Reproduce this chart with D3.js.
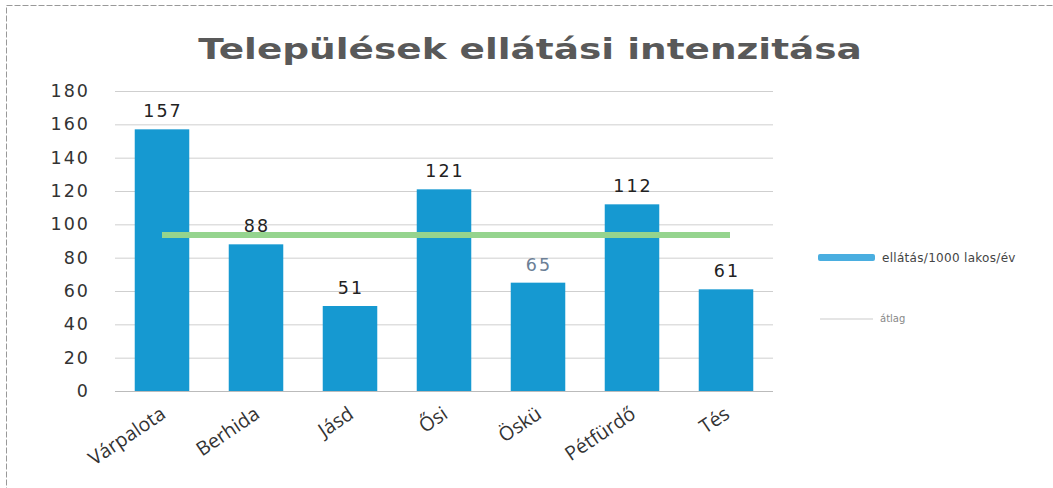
<!DOCTYPE html>
<html>
<head>
<meta charset="utf-8">
<script src="https://cdn.jsdelivr.net/npm/d3@7"></script>
<style>
  body { margin: 0; background: #fff; }
  text { font-family: "DejaVu Sans", sans-serif; }
</style>
</head>
<body>
<div id="chart"></div>
<script>
        var width = 1053;
        var height = 488;

        // data
        var categories = ["Várpalota", "Berhida", "Jásd", "Ősi", "Öskü", "Pétfürdő", "Tés"];
        var values = [157, 88, 51, 121, 65, 112, 61];
        var yTicks = [0, 20, 40, 60, 80, 100, 120, 140, 160, 180];
        var seriesNames = ["ellátás/1000 lakos/év", "átlag"];

        var avg = d3.mean(values);

        var svg = d3.select("#chart")
                    .append("svg")
                    .attr("width", width)
                    .attr("height", height);

        // frame of the pasted chart
        svg.append("rect")
            .attr("x", 6.5).attr("y", 5.5)
            .attr("width", 1060).attr("height", 500)
            .attr("fill", "none")
            .attr("stroke", "#999")
            .attr("stroke-dasharray", "6,2");

        var x = d3.scaleBand()
            .domain(categories)
            .range([115, 773])
            .paddingInner(0.42)
            .paddingOuter(0.21);

        var y = d3.scaleLinear()
            .domain([0, 180])
            .range([391, 91]);

        // title (the scan is a bit stretched sideways, so scale it to fit)
        var title = svg.append("text")
            .attr("x", 0)
            .attr("y", 0)
            .attr("text-anchor", "middle")
            .style("font-family", "'DejaVu Sans', sans-serif")
            .style("font-weight", "bold")
            .style("font-size", "28px")
            .attr("fill", "#595959")
            .text("Települések ellátási intenzitása");
        var tl = title.node().getComputedTextLength();
        title.attr("transform", "translate(530,59) scale(" + (664 / tl) + ",1)");

        // gridlines
        svg.append("g").selectAll("line")
            .data(yTicks.slice(1))
            .enter()
            .append("line")
            .attr("x1", 115).attr("x2", 773)
            .attr("y1", function(d){ return y(d) + 0.5; })
            .attr("y2", function(d){ return y(d) + 0.5; })
            .attr("stroke", "#cfcfcf")
            .attr("stroke-width", 1);

        // baseline
        svg.append("line")
            .attr("x1", 115).attr("x2", 773)
            .attr("y1", y(0) + 0.5).attr("y2", y(0) + 0.5)
            .attr("stroke", "#bbb");

        // y axis labels
        var yAxis = d3.axisLeft(y).tickValues(yTicks).tickSize(0).tickPadding(0);
        var ya = svg.append("g")
            .attr("transform", "translate(90,0)")
            .call(yAxis);
        ya.select(".domain").remove();
        ya.selectAll("text")
            .style("font-family", "'DejaVu Sans', sans-serif")
            .style("font-size", "17.5px")
            .style("letter-spacing", "2px")
            .attr("fill", "#333");

        // bars
        svg.append("g").selectAll("rect")
            .data(values)
            .enter()
            .append("rect")
            .attr("x", function(d, i){ return x(categories[i]); })
            .attr("y", function(d){ return y(d); })
            .attr("width", x.bandwidth())
            .attr("height", function(d){ return y(0) - y(d); })
            .attr("fill", "#1699d1");

        // average line
        svg.append("line")
            .attr("x1", x(categories[0]) + x.bandwidth() / 2)
            .attr("x2", x(categories[categories.length - 1]) + x.bandwidth() / 2 + 4)
            .attr("y1", y(avg))
            .attr("y2", y(avg))
            .attr("stroke", "#95d48e")
            .attr("stroke-width", 6);

        // value labels
        svg.append("g").selectAll("text")
            .data(values)
            .enter()
            .append("text")
            .attr("x", function(d, i){ return x(categories[i]) + x.bandwidth() / 2 + 1; })
            .attr("y", function(d){ return y(d) - 12; })
            .attr("text-anchor", "middle")
            .style("font-size", "17.5px")
            .style("letter-spacing", "2px")
            .attr("fill", function(d, i){ return i == 4 ? "#6c7f96" : "#222"; })
            .text(function(d){ return d; });

        // category labels, rotated
        svg.append("g").selectAll("text")
            .data(categories)
            .enter()
            .append("text")
            .attr("transform", function(d){
                return "translate(" + (x(d) + x.bandwidth() / 2 + 5) + ",417) rotate(-34)";
            })
            .attr("text-anchor", "end")
            .style("font-family", "'Open Sans', sans-serif")
            .style("font-size", "19.5px")
            .attr("fill", "#333")
            .text(function(d){ return d; });

        // legend
        var legend = svg.append("g");
        legend.append("rect")
            .attr("x", 818).attr("y", 254)
            .attr("width", 57).attr("height", 7)
            .attr("rx", 2)
            .attr("fill", "#4aaee0");
        legend.append("text")
            .attr("x", 882).attr("y", 262)
            .style("font-size", "12px")
            .style("letter-spacing", "0.3px")
            .attr("fill", "#444")
            .text(seriesNames[0]);
        legend.append("line")
            .attr("x1", 820).attr("x2", 873)
            .attr("y1", 319).attr("y2", 319)
            .attr("stroke", "#ddd")
            .attr("stroke-width", 1.5);
        legend.append("text")
            .attr("x", 880).attr("y", 322)
            .style("font-size", "10px")
            .attr("fill", "#888")
            .text(seriesNames[1]);
</script>
</body>
</html>
